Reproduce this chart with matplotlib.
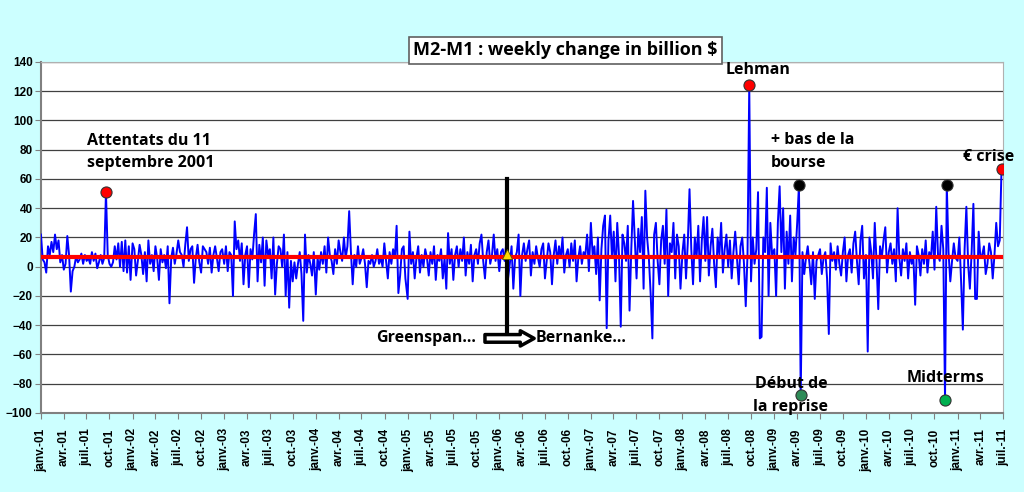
import pandas as pd
import matplotlib.pyplot as plt
import matplotlib.dates as mdates

# weekly change M2-M1 (billion $), one list per year
w2001 = [22, 5, 3, -4, 14, 8, 17, 10, 22, 12, 18, 3, 8, -2, 2, 21, 8, -17, -3, 0,
         7, 3, 5, 9, 2, 8, 4, 6, 2, 10, 4, 9, -1, 3, 8, 2, 6, 51, 8, 2,
         0, 3, 14, 5, 16, 0, 17, -3, 18, -4, 14, -9]
w2002 = [16, 12, -6, 4, 15, 8, -5, 10, -10, 18, 2, 8, -3, 14, 6, -9, 12, 3, 8, -1,
         14, -25, 6, 13, 2, 9, 18, 10, 8, 0, 15, 27, 4, 12, 14, -11, 6, 15, 3, -4,
         14, 12, 10, 2, 13, -4, 8, 14, 6, -3, 10, 12]
w2003 = [2, 14, -3, 10, 8, -20, 31, 12, 18, 4, 16, -12, 8, 14, -14, 12, 5, 22, 36, -10,
         15, 3, 20, -13, 18, 8, 12, -8, 20, -19, 2, 14, 12, 0, 22, -20, 10, -28, 4, -10,
         3, -8, 2, 10, -5, -37, 22, -4, 8, 2, -6, 10]
w2004 = [-19, 6, -2, 10, 2, 14, -4, 20, 8, 4, -5, 12, 2, 18, 10, 4, 20, 6, 14, 38,
         10, -12, 8, 0, 14, 2, 6, 12, 2, -14, 4, 2, 8, 0, 4, 12, 2, 6, 0, 16,
         4, -8, 10, 2, 12, 6, 28, -18, -6, 12, 14, -8]
w2005 = [-22, 24, 2, 10, -8, 6, 14, -4, 8, 0, 12, 6, -6, 10, 2, 14, -9, 8, 4, 12,
         -8, 6, -15, 23, 2, 12, -9, 8, 14, 0, 12, 4, 20, -6, 10, 2, 15, -10, 8, 12,
         2, 16, 22, 4, -8, 10, 18, 2, 8, 22, 4, 12]
w2006 = [-3, 10, 12, 4, 16, -8, 2, 14, -15, 6, 10, 22, -20, 8, 16, 4, 12, 18, -6, 10,
         2, 14, 6, 0, 12, 16, -8, 4, 16, 10, -12, 8, 18, 2, 14, 6, 20, -4, 8, 12,
         0, 16, 4, 18, -10, 6, 14, 2, 10, 8, 22, -3]
w2007 = [30, 8, 14, -5, 20, -23, 12, 28, 35, -42, 18, 35, 6, 24, -10, 30, 8, -41, 22, 16,
         4, 28, -30, 12, 45, 18, -8, 26, 10, 34, -15, 52, 20, 6, -18, -49, 22, 30, 4, -12,
         18, 28, 2, 39, -20, 16, 10, 30, -8, 22, 14, -15]
w2008 = [10, 22, -8, 16, 53, 12, -12, 20, 6, 28, -10, 18, 34, 4, 34, -6, 14, 26, 2, -14,
         20, 8, 30, -4, 12, 22, 0, 18, -8, 10, 24, 6, -12, 14, 20, 2, -27, 8, 124, -10,
         20, 2, 12, 51, -49, -48, 20, 10, 54, -20, 30, 8]
w2009 = [12, -20, 30, 55, 10, 40, -15, 24, 2, 35, -10, 20, 8, 30, 56, -88, 10, -5, 6, 14,
         2, -12, 10, -22, 4, 8, 12, -5, 6, 10, -8, -46, 16, 4, 10, -2, 14, 2, -6, 10,
         20, -10, 8, 12, -4, 16, 24, 4, -12, 18, 28, -8]
w2010 = [8, -58, 20, 10, -8, 30, 4, -29, 14, 6, 18, 27, -4, 10, 16, 2, 12, -10, 40, 6,
         -6, 12, 4, 16, -8, 10, 2, 6, -26, 14, 8, -6, 12, 2, 18, -4, 10, 6, 24, -2,
         41, 8, 4, 28, 12, -91, 56, 10, -10, 4, 16, 6]
w2011 = [4, 20, -10, -43, 12, 41, 2, -15, 10, 43, -22, -22, 24, 6, 8, 14, -5, 2, 16, 10,
         -8, 8, 30, 14, 18, 67]

average_level = 6.5

# annotated weeks
event_dates = ['2001-09-17', '2008-09-23', '2009-04-09', '2009-04-16',
               '2010-11-12', '2010-11-19', '2011-06-25']
event_colors = ['#FF0000', '#FF0000', '#000000', '#2E8B57', '#00B050', '#000000', '#FF0000']

yearly = [w2001, w2002, w2003, w2004, w2005, w2006, w2007, w2008, w2009, w2010, w2011]
parts = []
for i, vals in enumerate(yearly):
    d = pd.date_range(f'{2001 + i}-01-01', periods=len(vals), freq='7D')
    parts.append(pd.Series(vals, index=d, dtype=float))
series = pd.concat(parts)

plt.rcParams['font.family'] = ['Liberation Sans', 'DejaVu Sans']

fig = plt.figure(figsize=(10.24, 4.92), dpi=100)
fig.patch.set_facecolor('#CCFFFF')
ax = fig.add_axes([0.040, 0.1606, 0.9395, 0.7134])
ax.set_facecolor('white')

ax.plot(series.index, series.values, color='#0000FF', lw=1.4, zorder=3)
ax.plot([series.index[0], pd.Timestamp('2011-07-01')], [average_level, average_level],
        color='#FF0000', lw=3, zorder=4)

# events
idx = series.index.get_indexer(pd.to_datetime(event_dates), method='nearest')
for k, c in zip(idx, event_colors):
    ax.plot(series.index[k], series.values[k], 'o', ms=8, mfc=c, mec='#333333', mew=0.8, zorder=6)

ev = [(series.index[k], series.values[k]) for k in idx]
tk = dict(fontsize=11.5, fontweight='bold', family=['Open Sans', 'DejaVu Sans'],
          textcoords='offset points', zorder=7, linespacing=1.55)
ax.annotate('Attentats du 11\nseptembre 2001', ev[0], xytext=(-14, 15), ha='left', va='bottom', **tk)
ax.annotate('Lehman', ev[1], xytext=(6, 5), ha='center', va='bottom', **tk)
ax.annotate('+ bas de la\nbourse', ev[2], xytext=(-20, 10), ha='left', va='bottom', **tk)
ax.annotate('Début de\nla reprise', ev[3], xytext=(-7, 0), ha='center', va='center', **tk)
ax.annotate('Midterms', ev[4], xytext=(0, 10), ha='center', va='bottom', **tk)
ax.annotate('€ crise', ev[6], xytext=(-9, 3), ha='center', va='bottom', **tk)

# Greenspan -> Bernanke
handover = pd.Timestamp('2006-02-01')
ax.plot([handover, handover], [60, -46], color='black', lw=3, zorder=5)
ax.plot(handover, 9, marker='^', ms=7, mfc='#FFD700', mec='#555500', mew=0.6, zorder=5)
ax.annotate('', xy=(pd.Timestamp('2006-05-20'), -49), xytext=(pd.Timestamp('2005-11-05'), -49),
            arrowprops=dict(arrowstyle='simple,head_length=1.0,head_width=1.1,tail_width=0.55',
                            fc='white', ec='black', lw=2.5, shrinkA=0, shrinkB=0), zorder=6)
ax.text(pd.Timestamp('2005-10-01'), -49, 'Greenspan...', ha='right', va='center',
        fontsize=11.5, fontweight='bold', family=['Open Sans', 'DejaVu Sans'], zorder=7)
ax.text(pd.Timestamp('2006-05-25'), -49, 'Bernanke...', ha='left', va='center',
        fontsize=11.5, fontweight='bold', family=['Open Sans', 'DejaVu Sans'], zorder=7)

# axes
ax.set_ylim(-100, 140)
ax.set_yticks(range(-100, 141, 20))
ax.set_xlim(pd.Timestamp('2001-01-01'), pd.Timestamp('2011-07-01'))
ticks = pd.date_range('2001-01-01', '2011-07-01', freq='QS')
months = {1: 'janv.', 4: 'avr.', 7: 'juil.', 10: 'oct.'}
ax.set_xticks(ticks)
ax.set_xticklabels([f'{months[t.month]}-{t.year % 100:02d}' for t in ticks],
                   rotation=90, fontsize=8.5, fontweight='bold')
for lab in ax.get_yticklabels():
    lab.set_fontweight('bold')
    lab.set_fontsize(8.5)
ax.tick_params(axis='both', direction='out', length=4, color='#808080', pad=2)
ax.tick_params(axis='x', pad=7)
ax.grid(axis='y', color='#404040', lw=0.9, zorder=1)
ax.set_axisbelow(True)
for s in ['top', 'right']:
    ax.spines[s].set_color('#B0B0B0')
    ax.spines[s].set_linewidth(0.8)
for s in ['left', 'bottom']:
    ax.spines[s].set_color('#808080')
    ax.spines[s].set_linewidth(1.5)

fig.text(0.552, 0.898, 'M2-M1 : weekly change in billion $', ha='center', va='center',
         fontsize=13, fontweight='bold', family=['Open Sans', 'DejaVu Sans'],
         bbox=dict(boxstyle='square,pad=0.25', fc='white', ec='#606060', lw=1.2))

fig.savefig('out.png', dpi=100, facecolor=fig.get_facecolor())
